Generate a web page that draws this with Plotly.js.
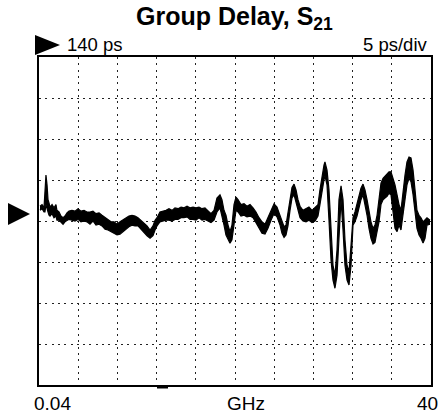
<!DOCTYPE html>
<html>
<head>
<meta charset="utf-8">
<script src="https://cdn.plot.ly/plotly-3.0.1.min.js"></script>
<style>
html,body{margin:0;padding:0;background:#fff;}
#chart{width:439px;height:415px;}
</style>
</head>
<body>
<div id="chart"></div>
<script>
// Frequency sweep points (GHz)
var freqGHz = [0.14,0.35,0.55,0.65,0.75,0.86,0.96,1.06,1.16,1.37,1.57,1.77,1.87,2.08,2.28,2.49,2.69,2.89,3.10,3.40,
3.71,4.02,4.32,4.63,4.93,5.24,5.54,5.85,6.16,6.46,6.77,7.07,7.38,7.69,7.99,8.30,8.60,8.91,9.21,9.52,
9.83,10.13,10.44,10.74,11.05,11.36,11.66,11.87,12.07,12.37,12.68,12.99,13.29,13.60,13.90,14.21,14.52,14.82,15.13,15.43,
15.74,16.04,16.35,16.66,16.96,17.27,17.57,17.88,18.18,18.49,18.69,18.90,19.10,19.31,19.51,19.71,19.92,20.12,20.33,20.63,
20.94,21.24,21.55,21.86,22.16,22.47,22.77,23.08,23.38,23.69,24.00,24.30,24.61,24.81,25.02,25.22,25.42,25.63,25.83,26.04,
26.24,26.44,26.65,26.95,27.26,27.56,27.87,28.18,28.48,28.68,28.89,29.09,29.19,29.40,29.60,29.81,30.01,30.21,30.42,30.62,
30.83,31.03,31.23,31.44,31.64,31.85,32.05,32.25,32.46,32.66,32.86,33.07,33.27,33.48,33.68,33.88,34.09,34.29,34.50,34.70,
34.90,35.11,35.31,35.52,35.72,35.92,36.13,36.33,36.54,36.74,36.94,37.15,37.35,37.55,37.76,37.96,38.17,38.37,38.57,38.78,
38.98,39.19,39.39,39.59,39.80,39.90];

// Upper edge of the noisy group-delay trace (ps)
var delayUpperPs = [141.8,142.0,141.6,143.8,145.6,144.4,142.6,142.2,141.7,142.0,141.6,142.0,141.3,141.1,140.6,140.4,140.6,141.0,141.2,141.3,
141.2,141.5,141.2,141.3,141.1,141.1,141.2,140.9,141.0,140.7,140.4,140.1,139.9,139.9,139.6,139.9,140.1,140.4,140.6,140.7,
140.6,140.4,140.1,139.8,139.4,138.9,139.4,140.1,140.4,141.1,141.2,141.3,141.5,141.3,141.6,141.5,141.7,141.6,141.8,141.6,
141.7,141.6,141.7,141.5,141.6,141.2,140.9,141.3,142.8,143.2,142.6,141.3,140.7,139.5,138.7,139.5,142.0,142.9,142.6,142.0,
142.1,141.8,142.0,141.6,141.1,140.4,139.9,139.6,140.4,141.3,142.1,141.7,140.7,139.9,139.3,139.5,141.1,142.8,144.1,144.5,
143.8,142.6,141.8,141.3,141.5,141.7,141.3,141.6,142.0,143.8,145.6,146.8,147.2,146.2,143.8,138.9,134.6,133.4,136.5,142.6,
144.3,142.6,137.7,134.6,133.8,137.1,140.4,141.1,142.0,143.2,144.0,144.5,143.8,142.6,141.1,139.9,139.1,139.5,140.7,142.6,
144.6,145.2,145.5,145.7,146.0,146.0,145.2,144.4,143.2,142.0,141.3,143.8,145.6,147.2,147.8,147.7,146.2,143.8,141.3,140.7,
140.4,139.9,140.1,140.4,140.2,140.1];

// Lower edge of the noisy group-delay trace (ps)
var delayLowerPs = [141.3,141.5,141.1,141.1,142.0,141.3,141.1,140.7,140.6,140.9,140.4,140.6,140.1,140.1,139.9,139.6,139.9,140.1,140.2,140.1,
140.0,140.2,139.9,140.0,139.9,139.6,140.0,139.5,139.6,139.4,139.0,138.9,138.7,138.5,138.3,138.4,138.7,139.0,139.3,139.5,
139.4,139.4,139.0,138.5,138.2,137.9,138.2,138.9,139.4,139.9,140.0,140.1,140.1,140.0,140.2,140.2,140.4,140.4,140.5,140.2,
140.2,140.1,140.4,140.1,140.2,140.0,139.8,140.1,141.1,141.6,140.7,139.5,138.3,137.7,137.3,137.7,139.5,141.3,141.1,140.6,
140.7,140.5,140.6,140.4,139.8,139.1,138.5,138.4,139.1,140.1,140.9,140.5,139.5,138.5,138.0,138.3,139.4,141.3,142.8,143.2,
142.2,141.1,140.4,140.0,139.9,140.1,139.8,140.0,140.6,142.0,143.8,145.0,145.5,144.4,140.1,135.2,132.8,131.8,133.4,138.9,
142.6,138.9,134.6,132.8,132.2,134.6,139.5,139.9,140.6,141.6,142.6,143.2,142.1,140.7,139.1,137.9,137.2,137.4,138.7,139.9,
142.0,142.6,142.8,143.0,143.4,143.2,141.1,139.1,138.7,139.5,138.9,140.7,142.6,144.4,145.2,144.8,143.2,141.0,139.1,138.3,
137.9,137.3,137.9,139.5,139.6,139.6];

var refLevelPs = 140;
var scalePsPerDiv = 5;
var startGHz = 0.04;
var stopGHz = 40;
var titleText = '<b>Group Delay, S<sub>21</sub></b>';
var refLabel = '140 ps';
var scaleLabel = '5 ps/div';
var startLabel = '0.04';
var unitLabel = 'GHz';
var stopLabel = '40';

var nDivX = 10, nDivY = 8;
var yMin = refLevelPs - scalePsPerDiv * nDivY / 2;
var yMax = refLevelPs + scalePsPerDiv * nDivY / 2;

var lower = {
  x: freqGHz, y: delayLowerPs, type: 'scatter', mode: 'lines',
  line: {color: '#000', width: 1.2}, hoverinfo: 'skip', showlegend: false
};
var upper = {
  x: freqGHz, y: delayUpperPs, type: 'scatter', mode: 'lines',
  line: {color: '#000', width: 1.2}, fill: 'tonexty', fillcolor: '#000',
  hoverinfo: 'skip', showlegend: false
};

function px2x(p){ return (p - 39) / 392; }
function px2y(p){ return (385 - p) / 328; }

var font = 'Arial, "Liberation Sans", sans-serif';

var layout = {
  width: 439, height: 415,
  margin: {l: 39, r: 8, t: 57, b: 30, pad: 0},
  paper_bgcolor: '#fff', plot_bgcolor: '#fff',
  showlegend: false,
  font: {family: font, color: '#000'},
  xaxis: {
    range: [startGHz, stopGHz], tick0: startGHz, dtick: (stopGHz - startGHz) / nDivX,
    showgrid: true, gridcolor: '#222', gridwidth: 1, griddash: '2px,4.3px',
    showticklabels: false, ticks: '', zeroline: false,
    showline: true, linecolor: '#000', linewidth: 2, mirror: true, fixedrange: true
  },
  yaxis: {
    range: [yMin, yMax], tick0: yMin, dtick: scalePsPerDiv,
    showgrid: true, gridcolor: '#222', gridwidth: 1, griddash: '2px,4.3px',
    showticklabels: false, ticks: '', zeroline: false,
    showline: true, linecolor: '#000', linewidth: 2, mirror: true, fixedrange: true
  },
  shapes: [
    {type: 'path', xref: 'paper', yref: 'paper',
     path: 'M ' + px2x(8) + ' ' + px2y(203) + ' L ' + px2x(8) + ' ' + px2y(225) + ' L ' + px2x(30) + ' ' + px2y(214) + ' Z',
     fillcolor: '#000', line: {width: 0}},
    {type: 'path', xref: 'paper', yref: 'paper',
     path: 'M ' + px2x(35) + ' ' + px2y(35) + ' L ' + px2x(35) + ' ' + px2y(55) + ' L ' + px2x(60) + ' ' + px2y(45) + ' Z',
     fillcolor: '#000', line: {width: 0}},
    {type: 'line', xref: 'paper', yref: 'paper',
     x0: px2x(157), x1: px2x(168), y0: px2y(387), y1: px2y(387),
     line: {color: '#000', width: 3}}
  ],
  annotations: [
    {text: titleText, xref: 'paper', yref: 'paper', x: px2x(234), y: px2y(18),
     xanchor: 'center', yanchor: 'middle', showarrow: false, font: {size: 25, family: font}},
    {text: refLabel, xref: 'paper', yref: 'paper', x: px2x(66), y: px2y(45),
     xanchor: 'left', yanchor: 'middle', showarrow: false, borderpad: 0, font: {size: 18.5, family: font}},
    {text: scaleLabel, xref: 'paper', yref: 'paper', x: px2x(429), y: px2y(45),
     xanchor: 'right', yanchor: 'middle', showarrow: false, borderpad: 0, font: {size: 18.5, family: font}},
    {text: startLabel, xref: 'paper', yref: 'paper', x: px2x(52.5), y: px2y(403),
     xanchor: 'center', yanchor: 'middle', showarrow: false, borderpad: 0, font: {size: 19, family: font}},
    {text: unitLabel, xref: 'paper', yref: 'paper', x: px2x(245.5), y: px2y(403),
     xanchor: 'center', yanchor: 'middle', showarrow: false, borderpad: 0, font: {size: 19, family: font}},
    {text: stopLabel, xref: 'paper', yref: 'paper', x: px2x(427), y: px2y(403),
     xanchor: 'center', yanchor: 'middle', showarrow: false, borderpad: 0, font: {size: 19, family: font}}
  ]
};

Plotly.newPlot('chart', [lower, upper], layout, {displayModeBar: false, staticPlot: true});
</script>
</body>
</html>
